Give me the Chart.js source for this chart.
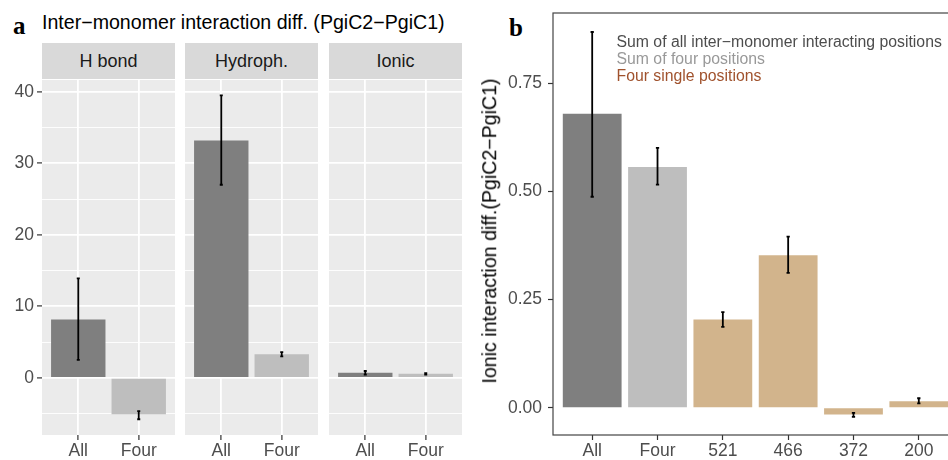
<!DOCTYPE html>
<html>
<head>
<meta charset="utf-8">
<script src="https://cdn.jsdelivr.net/npm/chart.js@4.4.1/dist/chart.umd.min.js"></script>
<style>
  html, body { margin: 0; padding: 0; background: #fff; }
  body { width: 948px; height: 460px; position: relative; overflow: hidden; font-family: "Liberation Sans", Arial, sans-serif; }
  canvas { position: absolute; }
  .txt { position: absolute; white-space: nowrap; line-height: 1; }
  .strip { position: absolute; top: 43px; height: 36px; background: #d9d9d9; color: #1a1a1a; font-size: 18px;
           display: flex; align-items: center; justify-content: center; }
  .letter { position: absolute; font-family: "Liberation Serif", "Times New Roman", serif; font-weight: bold; font-size: 25px; line-height: 1; color: #000; }
</style>
</head>
<body>
<div class="letter" style="left:13px; top:13px;">a</div>
<div class="txt" style="left:42px; top:12.8px; font-size:19.6px; color:#000;">Inter−monomer interaction diff. (PgiC2−PgiC1)</div>
<div class="strip" id="s0" style="left:42px; width:133px;"></div>
<div class="strip" id="s1" style="left:185px; width:133px;"></div>
<div class="strip" id="s2" style="left:329px; width:133px;"></div>
<canvas id="fa0" width="175" height="380" style="left:0px; top:80px; width:175px; height:380px;"></canvas>
<canvas id="fa1" width="133" height="380" style="left:185px; top:80px; width:133px; height:380px;"></canvas>
<canvas id="fa2" width="133" height="380" style="left:329px; top:80px; width:133px; height:380px;"></canvas>

<div class="letter" style="left:509px; top:15px;">b</div>
<canvas id="cb" width="478" height="460" style="left:480px; top:0px; width:478px; height:460px;"></canvas>
<div class="txt" id="ytitleb" style="left:490px; top:231px; font-size:19.6px; color:#000; transform: translate(-50%,-50%) rotate(-90deg);">Ionic interaction diff.(PgiC2−PgiC1)</div>
<div class="txt" style="left:616.5px; top:33.9px; font-size:15.8px; color:#4d4d4d;">Sum of all inter−monomer interacting positions</div>
<div class="txt" style="left:616.5px; top:50.9px; font-size:15.8px; color:#999999;">Sum of four positions</div>
<div class="txt" style="left:616.5px; top:68.3px; font-size:15.8px; color:#a0522d;">Four single positions</div>

<script>
// ---------- Data: panel a ----------
const aFacets = ['H bond', 'Hydroph.', 'Ionic'];
const aCategories = ['All', 'Four'];
const hbondValues = [8.15, -5.1];
const hbondLow = [2.5, -5.8];
const hbondHigh = [13.9, -4.65];
const hydrophValues = [33.2, 3.3];
const hydrophLow = [27.0, 3.0];
const hydrophHigh = [39.5, 3.6];
const ionicValues = [0.7, 0.55];
const ionicLow = [0.45, 0.45];
const ionicHigh = [0.95, 0.65];
const aMajorTicks = [0, 10, 20, 30, 40];
const aMinorTicks = [-5, 5, 15, 25, 35];

// ---------- Data: panel b ----------
const bCategories = ['All', 'Four', '521', '466', '372', '200'];
const bValues = [0.680, 0.557, 0.204, 0.353, -0.0155, 0.0153];
const bLow = [0.488, 0.516, 0.187, 0.312, -0.021, 0.010];
const bHigh = [0.869, 0.601, 0.221, 0.396, -0.0116, 0.022];
const bTicks = [0, 0.25, 0.5, 0.75];

// ---------- Styles ----------
const DARK = '#7f7f7f', LIGHT = '#bebebe', TAN = '#d2b48c';
const aColors = [DARK, LIGHT];
const bColors = [DARK, LIGHT, TAN, TAN, TAN, TAN];
const tickFont = { family: '"Liberation Sans", Arial, sans-serif', size: 17.5 };
const tickTextColor = '#4d4d4d';

aFacets.forEach((f, i) => { document.getElementById('s' + i).textContent = f; });

const bgPlugin = {
  id: 'panelBg',
  beforeDraw(chart, args, opts) {
    if (!opts.color) return;
    const a = chart.chartArea, c = chart.ctx;
    c.save(); c.fillStyle = opts.color;
    c.fillRect(a.left, a.top, a.right - a.left, a.bottom - a.top);
    c.restore();
  }
};
const frameBorder = {
  id: 'frameBorder',
  afterDraw(chart, args, opts) {
    if (!opts.color) return;
    const a = chart.chartArea, c = chart.ctx;
    c.save(); c.strokeStyle = opts.color; c.lineWidth = opts.width || 1;
    c.strokeRect(a.left, a.top, a.right - a.left, a.bottom - a.top);
    c.restore();
  }
};
const errPlugin = {
  id: 'errBars',
  afterDatasetsDraw(chart, args, opts) {
    const xs = chart.scales.x, ys = chart.scales.y, c = chart.ctx;
    const unit = xs.getPixelForValue(2) - xs.getPixelForValue(1);
    const half = unit * (opts.capWidth || 0.05) / 2;
    c.save(); c.strokeStyle = '#000'; c.lineWidth = opts.lineWidth || 1.8;
    opts.low.forEach((lo, i) => {
      const x = xs.getPixelForValue(i + 1);
      const y1 = ys.getPixelForValue(lo), y2 = ys.getPixelForValue(opts.high[i]);
      c.beginPath();
      c.moveTo(x, y1); c.lineTo(x, y2);
      c.moveTo(x - half, y1); c.lineTo(x + half, y1);
      c.moveTo(x - half, y2); c.lineTo(x + half, y2);
      c.stroke();
    });
    c.restore();
  }
};

function xScale(cats, height) {
  return {
    type: 'linear', min: 0.4, max: cats.length + 0.6, offset: false,
    afterBuildTicks: s => { s.ticks = cats.map((c, i) => ({ value: i + 1 })); },
    afterFit: s => { s.height = height; s.paddingLeft = 0; s.paddingRight = 0; },
    ticks: { callback: v => cats[v - 1], color: tickTextColor, font: tickFont, padding: 1, autoSkip: false, maxRotation: 0 },
    border: { display: false }
  };
}

function facetChart(id, values, low, high, showY) {
  const yTicks = aMinorTicks.concat(aMajorTicks).sort((p, q) => p - q);
  return new Chart(document.getElementById(id), {
    type: 'bar',
    data: {
      datasets: [{
        data: aCategories.map((c, i) => ({ x: i + 1, y: values[i] })),
        backgroundColor: aColors, borderWidth: 0,
        categoryPercentage: 1, barPercentage: 0.9
      }]
    },
    options: {
      animation: false, responsive: false, maintainAspectRatio: false, devicePixelRatio: 1,
      layout: { padding: 0 },
      plugins: { legend: { display: false }, tooltip: { enabled: false },
                 panelBg: { color: '#ebebeb' },
                 errBars: { low, high, capWidth: 0.05, lineWidth: 1.8 } },
      scales: {
        x: Object.assign(xScale(aCategories, 25), {
          grid: { offset: false, color: '#ffffff', lineWidth: 1.8, tickColor: '#333333', tickLength: 5, tickWidth: 1.2 }
        }),
        y: {
          min: -8.0, max: 41.65,
          afterBuildTicks: s => { s.ticks = yTicks.map(v => ({ value: v })); },
          afterFit: s => { s.width = showY ? 42 : 0; s.paddingTop = 0; s.paddingBottom = 0; },
          ticks: { display: showY, callback: v => aMajorTicks.includes(v) ? String(v) : '', color: tickTextColor, font: tickFont, padding: 3 },
          grid: {
            color: '#ffffff',
            lineWidth: ctx => aMajorTicks.includes(ctx.tick.value) ? 1.8 : 0.9,
            tickColor: ctx => aMajorTicks.includes(ctx.tick.value) ? '#333333' : 'rgba(0,0,0,0)',
            tickLength: 5, tickWidth: 1.2, drawTicks: showY
          },
          border: { display: false }
        }
      }
    },
    plugins: [bgPlugin, errPlugin]
  });
}

facetChart('fa0', hbondValues, hbondLow, hbondHigh, true);
facetChart('fa1', hydrophValues, hydrophLow, hydrophHigh, false);
facetChart('fa2', ionicValues, ionicLow, ionicHigh, false);

new Chart(document.getElementById('cb'), {
  type: 'bar',
  data: {
    datasets: [{
      data: bCategories.map((c, i) => ({ x: i + 1, y: bValues[i] })),
      backgroundColor: bColors, borderWidth: 0,
      categoryPercentage: 1, barPercentage: 0.9
    }]
  },
  options: {
    animation: false, responsive: false, maintainAspectRatio: false, devicePixelRatio: 1,
    layout: { padding: { top: 13, left: 0, right: 0, bottom: 0 } },
    plugins: { legend: { display: false }, tooltip: { enabled: false },
               frameBorder: { color: '#444444', width: 1.2 },
               errBars: { low: bLow, high: bHigh, capWidth: 0.05, lineWidth: 1.8 } },
    scales: {
      x: Object.assign(xScale(bCategories, 25), {
        grid: { offset: false, drawOnChartArea: false, tickColor: '#333333', tickLength: 5, tickWidth: 1.2 }
      }),
      y: {
        min: -0.063, max: 0.913,
        afterBuildTicks: s => { s.ticks = bTicks.map(v => ({ value: v })); },
        afterFit: s => { s.width = 73; s.paddingTop = 0; s.paddingBottom = 0; },
        ticks: { callback: v => v.toFixed(2), color: tickTextColor, font: tickFont, padding: 6 },
        grid: { drawOnChartArea: false, tickColor: '#333333', tickLength: 5, tickWidth: 1.2 },
        border: { display: false }
      }
    }
  },
  plugins: [frameBorder, errPlugin]
});
</script>
</body>
</html>
